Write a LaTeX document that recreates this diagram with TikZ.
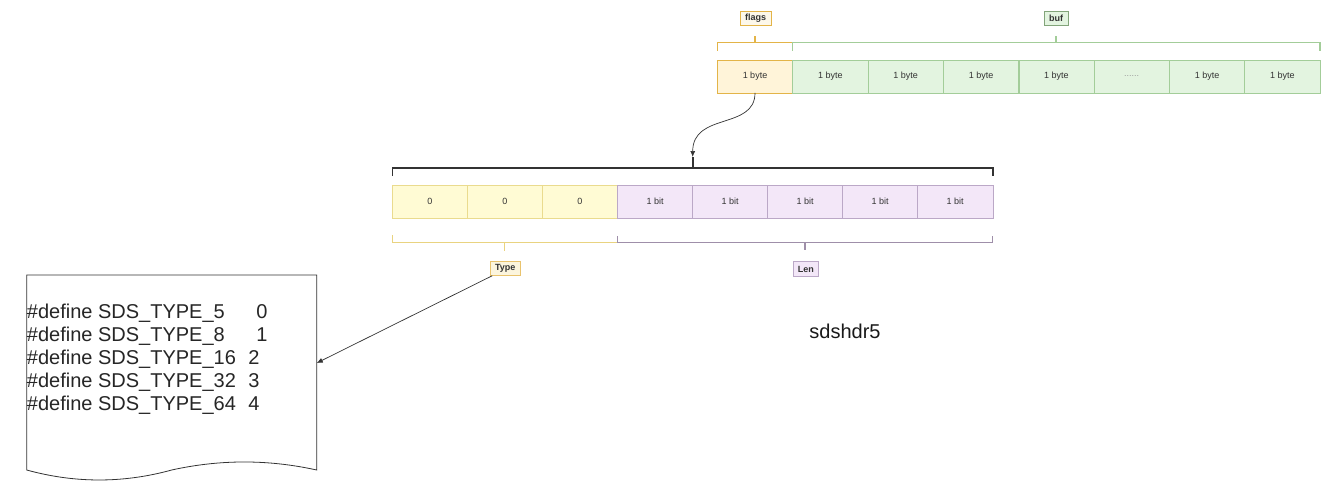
\documentclass[tikz,border=0pt]{standalone}
\usepackage{fontspec}
\setmainfont{Liberation Sans}
\usetikzlibrary{arrows.meta}
\definecolor{yfill}{HTML}{FFF4D9}
\definecolor{ydraw}{HTML}{E3B448}
\definecolor{zfill}{HTML}{FFFBD4}
\definecolor{zdraw}{HTML}{EADB8E}
\definecolor{gfill}{HTML}{E3F4E0}
\definecolor{gdraw}{HTML}{A3CD99}
\definecolor{pfill}{HTML}{F3E7F8}
\definecolor{pdraw}{HTML}{BBA8C7}
\definecolor{ink}{HTML}{333333}
\tikzset{
  cellbox/.style={draw, inner sep=0pt, font=\fontsize{9}{10}\selectfont, text=ink},
  topcell/.style={cellbox, minimum width=75.34pt, minimum height=32.7pt},
  midcell/.style={cellbox, minimum width=75.05pt, minimum height=33.3pt},
  ycell/.style={topcell, fill=yfill, draw=ydraw},
  gcell/.style={topcell, fill=gfill, draw=gdraw},
  zcell/.style={midcell, fill=zfill, draw=zdraw},
  pcell/.style={midcell, fill=pfill, draw=pdraw},
  tag/.style={draw, inner xsep=4.7pt, inner ysep=0pt, minimum height=14.7pt,
    font=\fontsize{9}{10}\selectfont\bfseries, text=ink},
  brk/.style={line width=1.2pt},
  conn/.style={draw=ink, line width=0.7pt, -{Latex[length=6pt,width=5pt]}},
}
\begin{document}
\begin{tikzpicture}[x=1pt,y=-1pt]
\useasboundingbox (0,0) rectangle (1335,490);
% top row
\node[ycell] (f0) at (755.0,76.35) {1 byte};
\node[gcell] (g1) at (830.3,76.35) {1 byte};
\node[gcell] (g2) at (905.7,76.35) {1 byte};
\node[gcell] (g3) at (981.0,76.35) {1 byte};
\node[gcell] (g4) at (1056.4,76.35) {1 byte};
\node[gcell, text=black!40] (g5) at (1131.7,76.35) {......};
\node[gcell] (g6) at (1207.0,76.35) {1 byte};
\node[gcell] (g7) at (1282.3,76.35) {1 byte};
% top labels
\node[tag, fill=yfill!80!ydraw!30, draw=ydraw] (flagslbl) at (755.5,18.3) {flags};
\node[tag, fill=gfill, draw=gdraw!80!black] (buflbl) at (1056,18.3) {buf};
% top brackets
\draw[brk, draw=ydraw] (717.3,50.7) -- (717.3,42.7) -- (792.7,42.7);
\draw[brk, draw=ydraw] (755,42.7) -- (755,35.7);
\draw[brk, draw=gdraw] (792.7,50.7) -- (792.7,42.7) -- (1320,42.7) -- (1320,50.7);
\draw[brk, draw=gdraw] (1056,42.7) -- (1056,35.7);
% middle row
\node[zcell] (z1) at (429.8,201.65) {0};
\node[zcell] (z2) at (504.9,201.65) {0};
\node[zcell] (z3) at (579.9,201.65) {0};
\node[pcell] (p1) at (655.0,201.65) {1 bit};
\node[pcell] (p2) at (730.0,201.65) {1 bit};
\node[pcell] (p3) at (805.1,201.65) {1 bit};
\node[pcell] (p4) at (880.1,201.65) {1 bit};
\node[pcell] (p5) at (955.2,201.65) {1 bit};
% black bracket
\draw[line width=1.6pt, draw=ink] (392.3,176) -- (392.3,167.7) -- (992.7,167.7) -- (992.7,176);
\coordinate (blk) at (692.7,157);
\draw[line width=1.6pt, draw=ink] (692.7,167.7) -- (blk);
\draw[conn] (f0.south) .. controls (755,130) and (692.7,112) .. (blk);
% lower brackets
\draw[brk, draw=zdraw!80!ydraw] (392.3,235) -- (392.3,242.7) -- (617.3,242.7);
\draw[brk, draw=zdraw!80!ydraw] (504.3,242.7) -- (504.3,250.7);
\draw[brk, draw=pdraw!85!black] (617.3,236) -- (617.3,242.2) -- (992.7,242.2) -- (992.7,236);
\draw[brk, draw=pdraw!85!black] (805,242.2) -- (805,250.2);
\node[tag, fill=zfill!70!ydraw!40, draw=ydraw!80] (typelbl) at (505.3,268.2) {Type};
\node[tag, fill=pfill, draw=pdraw] (lenlbl) at (805.8,269) {Len};
% document shape
\draw[draw=ink, line width=0.8pt, fill=white] (26.7,275) -- (316.7,275) -- (316.7,470)
  .. controls (268.4,459.3) and (220.0,459.3) .. (171.7,470)
  .. controls (123.4,483.3) and (75,483.3) .. (26.7,470) -- cycle;
\node[anchor=north west, inner sep=0pt, align=left, font=\fontsize{20}{23}\selectfont, text=black!85]
  (doc) at (26.7,303.5) {%
  \makebox[229.5pt][l]{\#define SDS\_TYPE\_5}0\\
  \makebox[229.5pt][l]{\#define SDS\_TYPE\_8}1\\
  \makebox[221.5pt][l]{\#define SDS\_TYPE\_16}2\\
  \makebox[221.5pt][l]{\#define SDS\_TYPE\_32}3\\
  \makebox[221.5pt][l]{\#define SDS\_TYPE\_64}4};
\coordinate (docin) at (316.7,363);
\draw[conn] ([xshift=2pt]typelbl.south west) -- (docin);
% title
\node[font=\fontsize{20}{24}\selectfont, text=black!90] (title) at (845,331) {sdshdr5};
\end{tikzpicture}
\end{document}
